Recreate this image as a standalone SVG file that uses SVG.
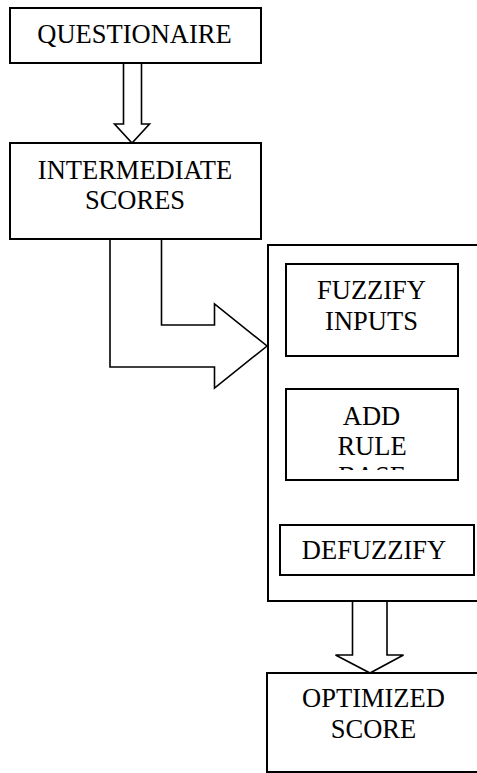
<svg xmlns="http://www.w3.org/2000/svg" width="477" height="773" viewBox="0 0 477 773">
<style>
.box{fill:#fff;stroke:#000;stroke-width:2}
.arrow{fill:#fff;stroke:#000;stroke-width:1.6;stroke-linejoin:miter}
.t{font-family:"Liberation Serif","Times New Roman",serif;font-size:26.5px;fill:#000;text-anchor:middle}
</style>
<defs>
<clipPath id="clipAdd"><rect x="287" y="390" width="170" height="80"/></clipPath>
</defs>
<rect width="477" height="773" fill="#fff"/>
<g id="connectors">
<path class="arrow" d="M123.5,63 V124 H114.5 L132,143 L149.5,124 H141.5 V63"/>
<path class="arrow" d="M110,239 V367 H214.5 V388 L267,346 L214.5,304 V325 H161.5 V239"/>
<path class="arrow" d="M352.5,601 V655 H335.5 L370,673 L403.5,655 H387 V601"/>
</g>
<g id="questionaire">
<rect class="box" x="10" y="8" width="251" height="55"/>
<text class="t" x="134.5" y="43">QUESTIONAIRE</text>
</g>
<g id="intermediate">
<rect class="box" x="10" y="143" width="251" height="96"/>
<text class="t" x="135" y="179">INTERMEDIATE</text>
<text class="t" x="135" y="209">SCORES</text>
</g>
<g id="fuzzy-system">
<rect class="box" x="268" y="245" width="220" height="356"/>
</g>
<g id="fuzzify">
<rect class="box" x="286" y="264" width="172" height="92"/>
<text class="t" x="371.5" y="299">FUZZIFY</text>
<text class="t" x="371.5" y="330">INPUTS</text>
</g>
<g id="rulebase">
<rect class="box" x="286" y="389" width="172" height="91"/>
<g clip-path="url(#clipAdd)">
<text class="t" x="371.5" y="425">ADD</text>
<text class="t" x="372" y="455">RULE</text>
<text class="t" x="372" y="485">BASE</text>
</g>
</g>
<g id="defuzzify">
<rect class="box" x="280" y="525" width="194" height="50"/>
<text class="t" x="374" y="559">DEFUZZIFY</text>
</g>
<g id="optimized">
<rect class="box" x="267" y="673" width="220" height="99"/>
<text class="t" x="373.5" y="707">OPTIMIZED</text>
<text class="t" x="373.5" y="738">SCORE</text>
</g>
</svg>
